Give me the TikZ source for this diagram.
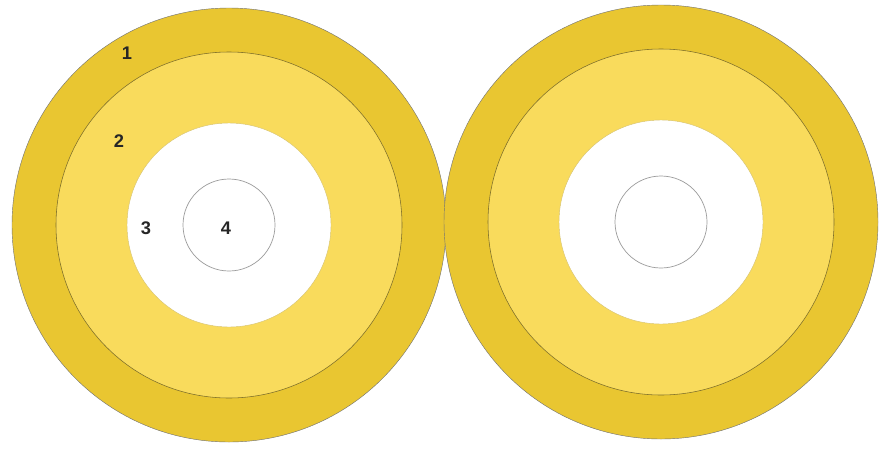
\documentclass[tikz,border=0pt]{standalone}
\usepackage{fontspec}
\setmainfont{Liberation Sans}
\usetikzlibrary{positioning}
\definecolor{ringdark}{HTML}{E9C631}
\definecolor{ringlight}{HTML}{F9DB5C}
\definecolor{ringline}{HTML}{7D6E2A}
\definecolor{coreline}{HTML}{9C9C9C}

\begin{document}
\begin{tikzpicture}[x=0.025cm, y=-0.025cm,
  lbl/.style={font=\fontsize{13}{15}\selectfont\bfseries, text=black!85, inner sep=0pt}]
  \useasboundingbox (0,0) rectangle (885,448);
  % two targets, same rings
  \foreach \cx/\cy in {229/225, 661/222} {
    \filldraw[fill=ringdark, draw=black!55, line width=0.3pt] (\cx,\cy) circle (217);
    \filldraw[fill=ringlight, draw=ringline, line width=0.4pt] (\cx,\cy) circle (173);
    \filldraw[fill=white, draw=ringlight!70!gray, line width=0.3pt] (\cx,\cy) circle (102);
    \draw[coreline, line width=0.5pt] (\cx,\cy) circle (46);
  }
  % ring numbers on the left target
  \node[lbl] (one) at (127,53) {1};
  \node[lbl] (two) at (119,141) {2};
  \node[lbl] (three) at (146,228) {3};
  \node[lbl] (four) at (226,228) {4};
\end{tikzpicture}
\end{document}
